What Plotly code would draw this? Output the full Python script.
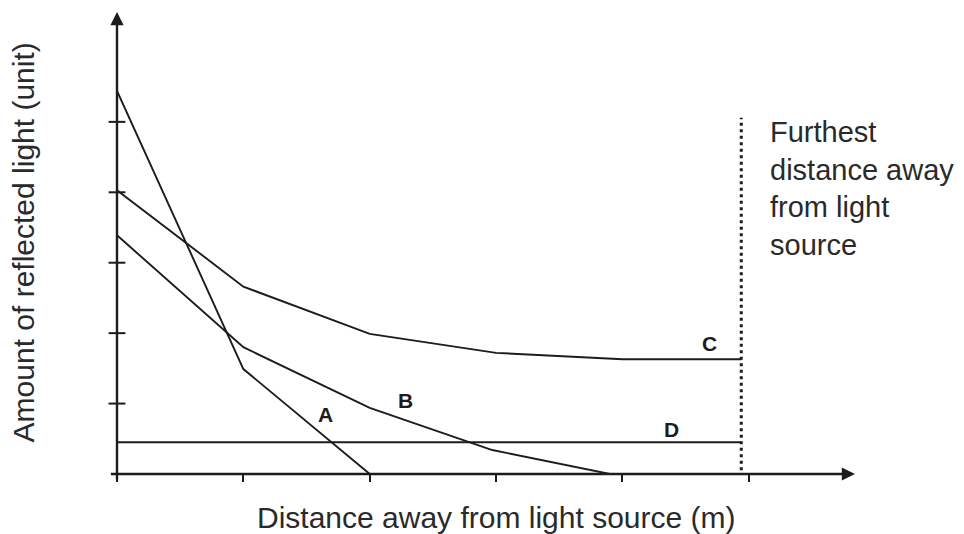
import plotly.graph_objects as go

## Data (x in distance steps, y in reflected-light units)
a_x = [0, 1, 2]
a_y = [5.44, 1.49, 0]

b_x = [0, 1, 2, 2.97, 3.9]
b_y = [3.39, 1.80, 0.94, 0.34, 0]

c_x = [0, 1, 2, 3, 4, 4.94]
c_y = [4.03, 2.66, 1.99, 1.72, 1.63, 1.63]

d_x = [0, 4.94]
d_y = [0.45, 0.45]

furthest_x = [4.94, 4.94]
furthest_y = [-0.13, 5.06]

y_tick_vals = [1, 2, 3, 4, 5]
x_tick_vals = [0, 1, 2, 3, 4, 5]

# curve letters: (label, x, y)
curve_labels = [("A", 1.65, 0.84), ("B", 2.28, 1.04), ("C", 4.69, 1.85), ("D", 4.39, 0.625)]

X_MAX = 5.84
Y_MAX = 6.56
INK = "#1c1c1c"
FONT = "Arial, Liberation Sans, sans-serif"

fig = go.Figure()

for xs, ys in [(a_x, a_y), (b_x, b_y), (c_x, c_y), (d_x, d_y)]:
    fig.add_trace(go.Scatter(x=xs, y=ys, mode="lines",
                             line=dict(color=INK, width=1.9),
                             hoverinfo="skip", showlegend=False, cliponaxis=False))

# dotted "furthest distance" marker
fig.add_trace(go.Scatter(x=furthest_x, y=furthest_y, mode="lines",
                         line=dict(color=INK, width=3, dash="3px,3.5px"),
                         hoverinfo="skip", showlegend=False, cliponaxis=False))

# y ticks cross the axis in the sketch -> short horizontal dashes at x=0
fig.add_trace(go.Scatter(x=[0] * len(y_tick_vals), y=y_tick_vals, mode="markers",
                         marker=dict(symbol="line-ew", size=12,
                                     line=dict(color=INK, width=2)),
                         hoverinfo="skip", showlegend=False, cliponaxis=False))

annotations = []
# axes with arrow heads
annotations.append(dict(x=X_MAX, y=0, ax=-0.06, ay=0, xref="x", yref="y", axref="x", ayref="y",
                        showarrow=True, arrowhead=2, arrowsize=1.1, arrowwidth=2.4,
                        arrowcolor=INK, text=""))
annotations.append(dict(x=0, y=Y_MAX, ax=0, ay=-0.1, xref="x", yref="y", axref="x", ayref="y",
                        showarrow=True, arrowhead=2, arrowsize=1.1, arrowwidth=2.4,
                        arrowcolor=INK, text=""))

for name, lx, ly in curve_labels:
    annotations.append(dict(x=lx, y=ly, xref="x", yref="y", text="<b>" + name + "</b>",
                            showarrow=False, font=dict(family=FONT, size=21, color=INK)))

annotations.append(dict(x=5.15, y=4.05, xref="x", yref="y", xanchor="left", yanchor="middle",
                        align="left", showarrow=False,
                        text="Furthest<br>distance away<br>from light<br>source",
                        font=dict(family=FONT, size=29, color="#2a2a2a")))

annotations.append(dict(x=3.0, y=-0.095, xref="x", yref="paper", yanchor="middle",
                        showarrow=False, text="Distance away from light source (m)",
                        font=dict(family=FONT, size=30, color="#2a2a2a")))
annotations.append(dict(x=-0.152, y=0.502, xref="paper", yref="paper", textangle=-90,
                        showarrow=False, text="Amount of reflected light (unit)",
                        font=dict(family=FONT, size=30, color="#2a2a2a")))

fig.update_layout(
    width=964, height=534,
    margin=dict(l=117, r=109, t=12, b=60),
    plot_bgcolor="white", paper_bgcolor="white",
    xaxis=dict(range=[0, X_MAX], showgrid=False, zeroline=False, showline=False,
               tickvals=x_tick_vals, ticks="outside", ticklen=7, tickwidth=2,
               tickcolor=INK, showticklabels=False),
    yaxis=dict(range=[0, Y_MAX], showgrid=False, zeroline=False, showline=False,
               showticklabels=False, ticks=""),
    annotations=annotations,
)

fig.write_html("out.html", config={"displayModeBar": False},
               post_script="document.body.style.margin='0';")
